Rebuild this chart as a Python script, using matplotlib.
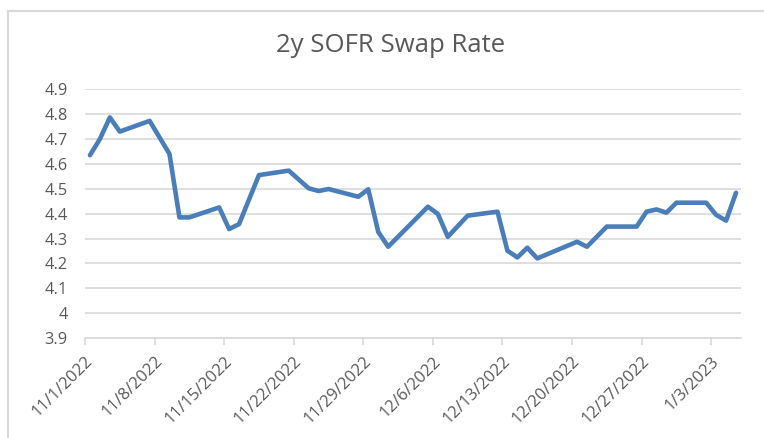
import matplotlib
matplotlib.use("Agg")
import matplotlib.pyplot as plt
import matplotlib.dates as mdates
import numpy as np
from matplotlib.lines import Line2D

dates = ['2022-11-01', '2022-11-02', '2022-11-03', '2022-11-04', '2022-11-07', '2022-11-09',
         '2022-11-10', '2022-11-11', '2022-11-14', '2022-11-15', '2022-11-16', '2022-11-18',
         '2022-11-21', '2022-11-23', '2022-11-24', '2022-11-25', '2022-11-28', '2022-11-29',
         '2022-11-30', '2022-12-01', '2022-12-05', '2022-12-06', '2022-12-07', '2022-12-09',
         '2022-12-12', '2022-12-13', '2022-12-14', '2022-12-15', '2022-12-16', '2022-12-20',
         '2022-12-21', '2022-12-23', '2022-12-26', '2022-12-27', '2022-12-28', '2022-12-29',
         '2022-12-30', '2023-01-02', '2023-01-03', '2023-01-04', '2023-01-05']
rates = [4.635, 4.70, 4.787, 4.73, 4.773, 4.64,
         4.385, 4.385, 4.425, 4.338, 4.358, 4.555,
         4.573, 4.502, 4.491, 4.499, 4.468, 4.498,
         4.327, 4.267, 4.428, 4.399, 4.307, 4.392,
         4.408, 4.251, 4.224, 4.263, 4.22, 4.287,
         4.267, 4.348, 4.348, 4.408, 4.417, 4.404,
         4.444, 4.444, 4.395, 4.372, 4.484]
tick_dates = ['2022-11-01', '2022-11-08', '2022-11-15', '2022-11-22', '2022-11-29',
              '2022-12-06', '2022-12-13', '2022-12-20', '2022-12-27', '2023-01-03']
tick_labels = ['11/1/2022', '11/8/2022', '11/15/2022', '11/22/2022', '11/29/2022',
               '12/6/2022', '12/13/2022', '12/20/2022', '12/27/2022', '1/3/2023']
y_ticks = [3.9, 4.0, 4.1, 4.2, 4.3, 4.4, 4.5, 4.6, 4.7, 4.8, 4.9]
y_labels = ['3.9', '4', '4.1', '4.2', '4.3', '4.4', '4.5', '4.6', '4.7', '4.8', '4.9']

plt.rcParams['font.family'] = ['Open Sans', 'DejaVu Sans']

fig = plt.figure(figsize=(7.64, 4.38), dpi=100)
W, H = 764, 438
ax = fig.add_axes([85 / W, 1 - 338 / H, (741 - 85) / W, (338 - 89.3) / H])

x = np.array(dates, dtype='datetime64[D]').astype('datetime64[h]') + np.timedelta64(12, 'h')
x = mdates.date2num(x.astype('O'))
ax.plot(x, rates, color='#4a7ebb', lw=3.3, solid_joinstyle='round', solid_capstyle='round', zorder=3)

ax.set_ylim(3.9, 4.9)
ax.set_yticks(y_ticks)
ax.set_yticklabels(y_labels)
ax.set_xlim(mdates.datestr2num('2022-11-01'), mdates.datestr2num('2023-01-06'))
ax.set_xticks(mdates.datestr2num(tick_dates))
ax.set_xticklabels(tick_labels, rotation=45, ha='right', va='top', rotation_mode='anchor')

ax.grid(axis='y', color='#d9d9d9', lw=1.2)
ax.set_axisbelow(True)
for s in ['top', 'right', 'left']:
    ax.spines[s].set_visible(False)
ax.spines['bottom'].set_color('#d9d9d9')
ax.spines['bottom'].set_linewidth(1.2)
ax.tick_params(axis='y', length=0, pad=12.5, labelsize=11.8, labelcolor='#595959')
ax.tick_params(axis='x', length=5, width=1.2, color='#d9d9d9', pad=6, labelsize=12, labelcolor='#595959')

fig.text(391 / W, 1 - 45 / H, '2y SOFR Swap Rate', ha='center', va='center', fontsize=18.5, color='#595959')

# chart border
fig.add_artist(Line2D([7.5 / W, 7.5 / W], [0, 1 - 11 / H], color='#d9d9d9', lw=1.5, transform=fig.transFigure))
fig.add_artist(Line2D([7.5 / W, 1], [1 - 11 / H, 1 - 11 / H], color='#d9d9d9', lw=1.5, transform=fig.transFigure))

fig.savefig('out.png', dpi=100)
